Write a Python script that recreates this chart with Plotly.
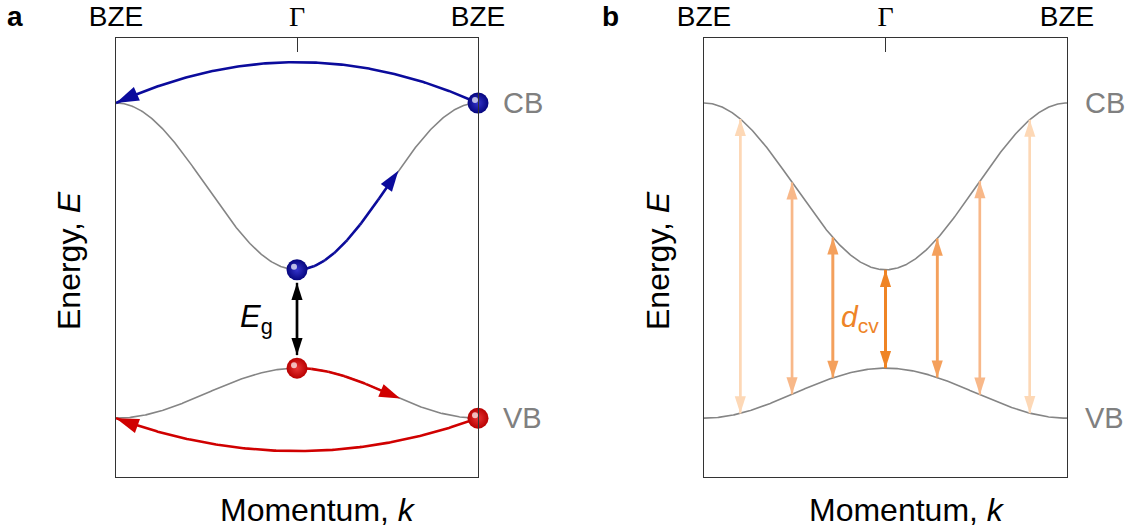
import numpy as np
import plotly.graph_objects as go

# ---- band-structure parameters (k in units of pi/a, energy in arbitrary units) ----
k_ticks = [-1.0, 0.0, 1.0]
k_ticktext = ["BZE", '<span style="font-family:Liberation Serif">Γ</span>', "BZE"]

cb_edge, cb_gamma = 8.52, 4.72     # conduction band: zone edge / Γ
vb_edge, vb_gamma = 1.34, 2.48     # valence band: zone edge / Γ

# panel a: intraband acceleration and return arcs
cb_hop_end = 0.56                  # k reached by the CB electron arrow
vb_hop_end = 0.57                  # k reached by the VB hole arrow
cb_arc_apex = 9.45                 # highest energy of the CB return arc
vb_arc_apex = 0.59                 # lowest energy of the VB return arc

# panel b: interband dipole arrows
k_dipole = [-0.80, -0.515, -0.29, 0.0, 0.285, 0.52, 0.795]
dipole_colors = ["#fdd8b6", "#f8b889", "#f4a05c", "#ef8424",
                 "#f4a05c", "#f8b889", "#fdd8b6"]
dipole_widths = [2.4, 2.4, 2.6, 3.0, 2.6, 2.4, 2.4]

# ---- geometry of the figure ----
W, H = 1128, 527
box_top, box_bot = 38, 477
xa_dom = [116 / W, 478 / W]
xb_dom = [704 / W, 1067 / W]
y_dom = [1 - box_bot / H, 1 - box_top / H]
y_range = [0, 10]
px_per_y = (box_bot - box_top) / (y_range[1] - y_range[0])
px_per_x = (478 - 116) / 2.0

BAND_GREY = "#858585"
BLUE = "#0b0b9c"
RED = "#d00000"
FONT = "Liberation Sans"


def band(k, edge, gamma):
    k = np.asarray(k, dtype=float)
    return gamma + (edge - gamma) * (1 - np.cos(np.pi * k)) / 2


def bezier_arc(y_end, y_apex, n=200):
    """Quadratic arc from k=+1 to k=-1 at height y_end passing through y_apex at k=0."""
    t = np.linspace(0, 1, n)
    ctrl = y_end + 2 * (y_apex - y_end)
    x = (1 - t) ** 2 * 1 + t ** 2 * (-1)
    y = (1 - t) ** 2 * y_end + 2 * t * (1 - t) * ctrl + t ** 2 * y_end
    return x, y


def arrow_trace(x, y, color, width, head, xa, ya, both=False):
    x = list(x)
    y = list(y)
    sizes = [0] * len(x)
    sizes[-1] = head
    if both:
        # walk back to the start so the first point also gets a head
        x = x + [x[0]]
        y = y + [y[0]]
        sizes = sizes + [head]
    return go.Scatter(
        x=x, y=y, mode="lines+markers", xaxis=xa, yaxis=ya,
        line=dict(color=color, width=width),
        marker=dict(symbol="arrow", size=sizes, color=color, opacity=1,
                    angleref="previous", line=dict(width=0)),
        cliponaxis=False, hoverinfo="skip", showlegend=False,
    )


fig = go.Figure()
k = np.linspace(-1, 1, 401)

for xa, ya in (("x", "y"), ("x2", "y2")):
    for edge, gamma in ((cb_edge, cb_gamma), (vb_edge, vb_gamma)):
        fig.add_trace(go.Scatter(
            x=k, y=band(k, edge, gamma), mode="lines", xaxis=xa, yaxis=ya,
            line=dict(color=BAND_GREY, width=1.6), hoverinfo="skip",
            showlegend=False, cliponaxis=False))

# ---- panel a ----
ax, ay = bezier_arc(cb_edge, cb_arc_apex)
fig.add_trace(arrow_trace(ax, ay, BLUE, 2.6, 24, "x", "y"))
ax, ay = bezier_arc(vb_edge, vb_arc_apex)
fig.add_trace(arrow_trace(ax, ay, RED, 2.6, 24, "x", "y"))

kh = np.linspace(0, cb_hop_end, 80)
fig.add_trace(arrow_trace(kh, band(kh, cb_edge, cb_gamma), BLUE, 2.6, 22, "x", "y"))
kh = np.linspace(0, vb_hop_end, 80)
fig.add_trace(arrow_trace(kh, band(kh, vb_edge, vb_gamma), RED, 2.6, 22, "x", "y"))

ball_gap = 13 / px_per_y
fig.add_trace(arrow_trace([0, 0], [vb_gamma + ball_gap, cb_gamma - ball_gap],
                          "black", 2.4, 18, "x", "y", both=True))

# balls (carriers)
ball_x = [0, 1, 0, 1]
ball_y = [cb_gamma, cb_edge, vb_gamma, vb_edge]
ball_edge = ["#06067e", "#06067e", "#b80000", "#b80000"]
ball_core = ["#3434cc", "#3434cc", "#e83434", "#e83434"]
fig.add_trace(go.Scatter(
    x=ball_x, y=ball_y, mode="markers", xaxis="x", yaxis="y",
    marker=dict(size=21, color=ball_edge, line=dict(width=0), opacity=1,
                gradient=dict(type="radial", color=ball_core)),
    cliponaxis=False, hoverinfo="skip", showlegend=False))
fig.add_trace(go.Scatter(
    x=[bx - 3 / px_per_x for bx in ball_x],
    y=[by + 3 / px_per_y for by in ball_y],
    mode="markers", xaxis="x", yaxis="y",
    marker=dict(size=6, color="rgba(255,255,255,0.7)", line=dict(width=0)),
    cliponaxis=False, hoverinfo="skip", showlegend=False))

# ---- panel b ----
for kd, col, wd in zip(k_dipole, dipole_colors, dipole_widths):
    fig.add_trace(arrow_trace([kd, kd],
                              [band(kd, vb_edge, vb_gamma), band(kd, cb_edge, cb_gamma)],
                              col, wd, 18, "x2", "y2", both=True))

# ---- axes ----
def xaxis(domain, anchor):
    return dict(domain=domain, anchor=anchor, range=[-1, 1], side="top",
                automargin=False,
                showgrid=False, zeroline=False, showline=True, mirror=True,
                linecolor="#333333", linewidth=1.4,
                tickvals=k_ticks, ticktext=k_ticktext, ticks="inside",
                ticklen=14, tickwidth=1.4, tickcolor="#333333",
                tickfont=dict(family=FONT, size=28, color="black"),
                fixedrange=True)


def yaxis(anchor):
    return dict(domain=y_dom, anchor=anchor, range=y_range, showgrid=False,
                automargin=False,
                zeroline=False, showline=True, mirror=True,
                linecolor="#333333", linewidth=1.4, showticklabels=False,
                ticks="", fixedrange=True)


panels = [
    # axis refs, band-label shift, x-title centre, y-title centre, panel letter x
    ("x", "y", 23, 318, 69, 15, "a"),
    ("x2", "y2", 16, 907, 658, 610, "b"),
]
annotations = []
for xr, yr, lab_shift, mx, ex, px, panel in panels:
    for yv, txt in ((cb_edge, "CB"), (vb_edge, "VB")):
        annotations.append(dict(xref=xr, yref=yr, x=1, y=yv, text=txt,
                                showarrow=False, xanchor="left", xshift=lab_shift,
                                font=dict(family=FONT, size=29, color="#808080")))
    annotations.append(dict(xref="paper", yref="paper", x=mx / W, y=1 - 510 / H,
                            text="Momentum, <i>k</i>", showarrow=False,
                            xanchor="center", yanchor="middle",
                            font=dict(family=FONT, size=32, color="black")))
    annotations.append(dict(xref="paper", yref="paper", x=ex / W, y=1 - 261 / H,
                            text="Energy, <i>E</i>", showarrow=False, textangle=-90,
                            xanchor="center", yanchor="middle",
                            font=dict(family=FONT, size=32, color="black")))
    annotations.append(dict(xref="paper", yref="paper", x=px / W, y=1 - 17 / H,
                            text=f"<b>{panel}</b>", showarrow=False,
                            xanchor="center", yanchor="middle",
                            font=dict(family=FONT, size=28, color="black")))

annotations.append(dict(xref="x", yref="y", x=0, y=(cb_gamma + vb_gamma) / 2,
                        text="<i>E</i><sub>g</sub>", showarrow=False,
                        xanchor="right", yanchor="middle", xshift=-22,
                        font=dict(family=FONT, size=31, color="black")))
annotations.append(dict(xref="x2", yref="y2", x=0, y=(cb_gamma + vb_gamma) / 2,
                        text="<i>d</i><sub>cv</sub>", showarrow=False,
                        xanchor="right", yanchor="middle", xshift=-5,
                        font=dict(family=FONT, size=30, color="#ee8428")))

fig.update_layout(
    template="none",
    width=W, height=H, margin=dict(l=0, r=0, t=0, b=0, autoexpand=False),
    paper_bgcolor="white", plot_bgcolor="white", showlegend=False,
    xaxis=xaxis(xa_dom, "y"), yaxis=yaxis("x"),
    xaxis2=xaxis(xb_dom, "y2"), yaxis2=yaxis("x2"),
    annotations=annotations,
)

fig.write_html("out.html")
